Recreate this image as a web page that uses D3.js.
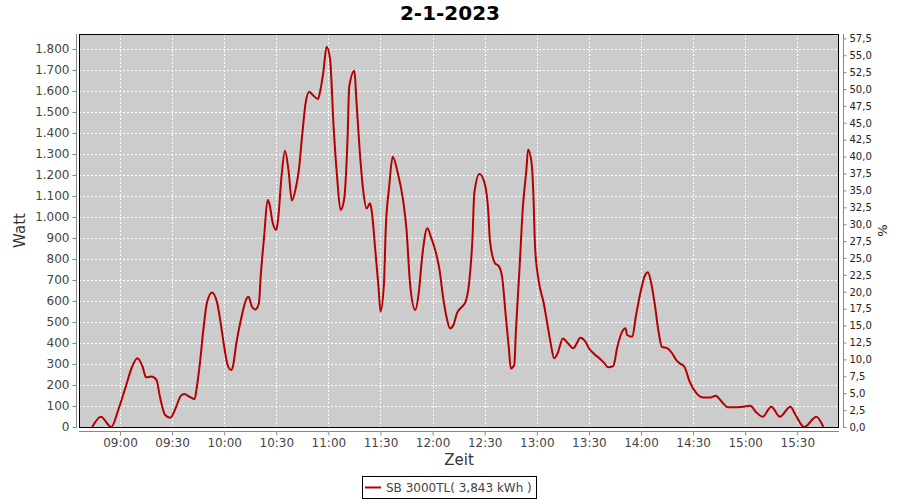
<!DOCTYPE html>
<html>
<head>
<meta charset="utf-8">
<script src="https://cdn.jsdelivr.net/npm/d3@7"></script>
<style>
  html, body { margin: 0; padding: 0; background: #ffffff; }
  svg { display: block; font-family: "DejaVu Sans", sans-serif; }
</style>
</head>
<body>
<svg id="chart" width="900" height="500"></svg>
<script>
const title = "2-1-2023";
const seriesName = "SB 3000TL( 3,843 kWh )";
const xLabel = "Zeit";
const yLabel = "Watt";
const y2Label = "%";

const times = ["08:44","08:49","08:55","08:59","09:03","09:07","09:10","09:13","09:15","09:18","09:21","09:23","09:26","09:29","09:32","09:35","09:37","09:40","09:43","09:44","09:46","09:48","09:50","09:53","09:56","09:58","10:00","10:02","10:04","10:05","10:07","10:10","10:13","10:14","10:16","10:18","10:20","10:21","10:23","10:25","10:26","10:28","10:30","10:31","10:33","10:35","10:37","10:39","10:41","10:43","10:45","10:47","10:49","10:51","10:54","10:55","10:57","10:59","11:01","11:03","11:05","11:07","11:09","11:11","11:12","11:15","11:16","11:18","11:20","11:22","11:24","11:25","11:27","11:29","11:30","11:32","11:33","11:35","11:37","11:40","11:43","11:45","11:47","11:50","11:52","11:54","11:57","11:59","12:02","12:04","12:06","12:08","12:10","12:12","12:14","12:17","12:19","12:21","12:23","12:24","12:27","12:30","12:32","12:33","12:36","12:38","12:40","12:42","12:44","12:45","12:47","12:48","12:50","12:52","12:54","12:55","12:57","12:58","12:59","13:01","13:04","13:06","13:08","13:10","13:12","13:15","13:18","13:21","13:23","13:25","13:28","13:30","13:33","13:36","13:39","13:41","13:44","13:45","13:46","13:48","13:51","13:52","13:55","13:57","14:00","14:02","14:04","14:06","14:08","14:10","14:12","14:15","14:18","14:20","14:22","14:25","14:28","14:32","14:36","14:40","14:43","14:46","14:50","14:53","14:59","15:03","15:06","15:10","15:15","15:20","15:26","15:29","15:34","15:41","15:45"];
const watts = [0,49,0,81,184,287,327,287,237,240,224,144,57,44,89,148,157,144,133,176,303,462,589,641,589,494,382,295,271,287,398,525,613,620,573,560,589,716,906,1081,1065,970,938,986,1192,1316,1224,1078,1129,1224,1398,1549,1597,1581,1562,1589,1684,1811,1748,1430,1192,1033,1081,1367,1621,1697,1573,1319,1129,1041,1065,1025,843,652,550,684,938,1144,1287,1208,1081,938,684,557,637,811,946,906,827,748,620,525,470,486,541,573,597,684,906,1113,1205,1160,1033,890,779,767,716,541,367,279,295,462,748,1049,1224,1322,1256,1113,859,700,589,494,398,327,351,422,398,375,398,425,406,375,348,327,303,284,290,319,367,430,470,438,430,525,652,716,737,680,580,460,382,376,350,322,305,287,216,160,140,140,149,125,94,94,97,101,73,49,97,49,97,57,0,49,0];

const xTickLabels = ["09:00","09:30","10:00","10:30","11:00","11:30","12:00","12:30","13:00","13:30","14:00","14:30","15:00","15:30"];
const yTicks = [0,100,200,300,400,500,600,700,800,900,1000,1100,1200,1300,1400,1500,1600,1700,1800];
const y2Ticks = [0,2.5,5,7.5,10,12.5,15,17.5,20,22.5,25,27.5,30,32.5,35,37.5,40,42.5,45,47.5,50,52.5,55,57.5];

const toMin = s => { const p = s.split(":"); return +p[0] * 60 + +p[1]; };
const data = times.map((t, i) => ({ t: toMin(t), w: watts[i] }));

const plot = { left: 79, right: 839, top: 34, bottom: 427 };
const svg = d3.select("#chart");

const x = d3.scaleLinear().domain([516.4, 954.0]).range([plot.left, plot.right]);
const y = d3.scaleLinear().domain([0, 1871.4]).range([plot.bottom, plot.top]);
const y2 = d3.scaleLinear().domain([0, 58.14]).range([plot.bottom, plot.top]);

const deFmt = d3.formatLocale({ decimal: ",", thousands: ".", grouping: [3], currency: ["", "€"] });
const fmtW = deFmt.format(",d");
const fmtP = deFmt.format(".1f");

// plot background
svg.append("rect").attr("x", plot.left).attr("y", plot.top)
  .attr("width", plot.right - plot.left).attr("height", plot.bottom - plot.top)
  .attr("fill", "#cccccc");

// grid
const grid = svg.append("g").attr("stroke", "#ffffff").attr("stroke-width", 1).attr("stroke-dasharray", "2,2");
grid.selectAll("line.h").data(yTicks.filter(d => d > 0)).enter().append("line")
  .attr("x1", plot.left).attr("x2", plot.right)
  .attr("y1", d => Math.round(y(d)) + 0.5).attr("y2", d => Math.round(y(d)) + 0.5);
grid.selectAll("line.v").data(xTickLabels).enter().append("line")
  .attr("y1", plot.top).attr("y2", plot.bottom)
  .attr("x1", d => Math.round(x(toMin(d))) + 0.5).attr("x2", d => Math.round(x(toMin(d))) + 0.5);

// line
const line = d3.line().x(d => x(d.t)).y(d => y(d.w)).curve(d3.curveMonotoneX);
svg.append("path").datum(data).attr("d", line)
  .attr("fill", "none").attr("stroke", "#b40000").attr("stroke-width", 2).attr("stroke-linejoin", "round");

// plot border
svg.append("rect").attr("x", plot.left + 0.5).attr("y", plot.top + 0.5)
  .attr("width", plot.right - plot.left - 1).attr("height", plot.bottom - plot.top)
  .attr("fill", "none").attr("stroke", "#000000").attr("stroke-width", 1);

// left axis
const yAxis = d3.axisLeft(y).tickValues(yTicks).tickFormat(fmtW).tickSize(4).tickPadding(3);
const gy = svg.append("g").attr("transform", "translate(76.5,0)").call(yAxis);
gy.select(".domain").attr("stroke", "#888888").attr("d", `M0,${plot.top}V${plot.bottom + 0.5}`);
gy.selectAll(".tick line").attr("stroke", "#888888");
gy.selectAll(".tick text").attr("fill", "#444444").style("font-size", "12px").style("font-family", "DejaVu Sans");

// right axis
const y2Axis = d3.axisRight(y2).tickValues(y2Ticks).tickFormat(fmtP).tickSize(3).tickPadding(3);
const gy2 = svg.append("g").attr("transform", "translate(843.5,0)").call(y2Axis);
gy2.select(".domain").attr("stroke", "#888888").attr("d", `M0,${plot.top}V${plot.bottom + 0.5}`);
gy2.selectAll(".tick line").attr("stroke", "#888888");
gy2.selectAll(".tick text").attr("fill", "#222222").style("font-size", "10px").style("font-family", "DejaVu Sans");

// bottom axis
const xAxis = d3.axisBottom(x).tickValues(xTickLabels.map(toMin)).tickFormat((d, i) => xTickLabels[i]).tickSize(4).tickPadding(3);
const gx = svg.append("g").attr("transform", "translate(0,431.5)").call(xAxis);
gx.select(".domain").attr("stroke", "#888888").attr("d", `M${plot.left},0H${plot.right}`);
gx.selectAll(".tick line").attr("stroke", "#888888");
gx.selectAll(".tick text").attr("fill", "#444444").style("font-size", "12px").style("font-family", "DejaVu Sans");

// title
svg.append("text").attr("x", 450).attr("y", 20).attr("text-anchor", "middle")
  .style("font-size", "20px").style("font-weight", "bold").attr("fill", "#000000").text(title);

// axis labels
svg.append("text").attr("x", (plot.left + plot.right) / 2).attr("y", 465).attr("text-anchor", "middle")
  .style("font-size", "15px").attr("fill", "#333333").text(xLabel);
svg.append("text").attr("transform", `translate(25,${(plot.top + plot.bottom) / 2}) rotate(-90)`).attr("text-anchor", "middle")
  .style("font-size", "15px").attr("fill", "#333333").text(yLabel);
svg.append("text").attr("transform", `translate(887,${(plot.top + plot.bottom) / 2}) rotate(-90)`).attr("text-anchor", "middle")
  .style("font-size", "13px").attr("fill", "#222222").text(y2Label);

// legend
const lg = svg.append("g");
lg.append("rect").attr("x", 362.5).attr("y", 476.5).attr("width", 174).attr("height", 22)
  .attr("fill", "#ffffff").attr("stroke", "#000000").attr("stroke-width", 1);
lg.append("line").attr("x1", 365).attr("x2", 381).attr("y1", 487.5).attr("y2", 487.5)
  .attr("stroke", "#b40000").attr("stroke-width", 2);
lg.append("text").attr("x", 386).attr("y", 492).style("font-size", "12px").attr("fill", "#444444").text(seriesName);
</script>
</body>
</html>
